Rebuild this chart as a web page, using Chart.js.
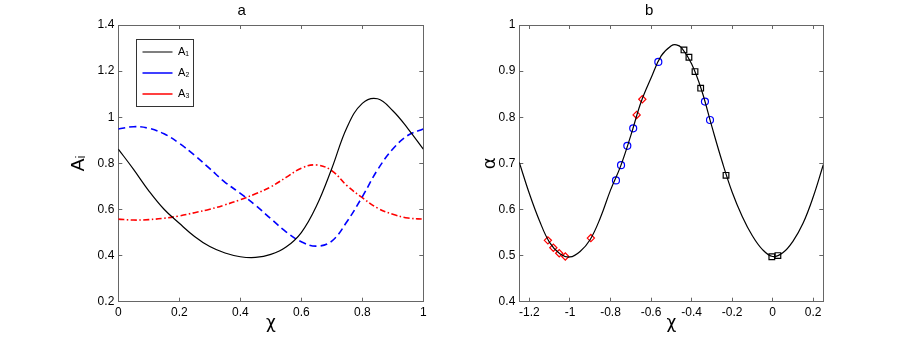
<!DOCTYPE html>
<html>
<head>
<meta charset="utf-8">
<script src="https://cdn.jsdelivr.net/npm/chart.js@4.4.1/dist/chart.umd.min.js"></script>
<style>
  html, body { margin: 0; padding: 0; background: #fff; }
  #wrap { position: relative; width: 910px; height: 340px; }
  canvas { position: absolute; top: 0; }
</style>
</head>
<body>
<div id="wrap">
  <canvas id="chartA" width="455" height="340" style="left:0"></canvas>
  <canvas id="chartB" width="455" height="340" style="left:455px"></canvas>
</div>
<script>
// Painel a
const chiA = [0, 0.05, 0.1, 0.15, 0.2, 0.25, 0.3, 0.35, 0.4, 0.45, 0.5, 0.55, 0.6, 0.65, 0.7, 0.75, 0.8, 0.85, 0.9, 0.95, 1];
const a1 = [0.862, 0.774, 0.681, 0.601, 0.540, 0.483, 0.439, 0.411, 0.395, 0.392, 0.405, 0.437, 0.500, 0.616, 0.778, 0.957, 1.060, 1.080, 1.028, 0.950, 0.862];
const a2 = [0.949, 0.959, 0.952, 0.928, 0.887, 0.835, 0.777, 0.718, 0.670, 0.618, 0.560, 0.503, 0.460, 0.441, 0.463, 0.548, 0.655, 0.772, 0.862, 0.922, 0.949];
const a3 = [0.558, 0.554, 0.556, 0.562, 0.572, 0.586, 0.601, 0.620, 0.642, 0.668, 0.698, 0.739, 0.779, 0.793, 0.768, 0.703, 0.651, 0.606, 0.579, 0.563, 0.558];
const ticksAx = [0, 0.2, 0.4, 0.6, 0.8, 1];
const ticksAy = [0.2, 0.4, 0.6, 0.8, 1, 1.2, 1.4];

// Painel b
const chiB = [-1.25, -1.2, -1.15, -1.1, -1.05, -1, -0.95, -0.9, -0.85, -0.8, -0.75, -0.7, -0.65, -0.6, -0.55, -0.5, -0.475, -0.45, -0.4, -0.35, -0.3, -0.25, -0.2, -0.15, -0.1, -0.05, 0, 0.05, 0.1, 0.15, 0.2, 0.25];
const alphaB = [0.702, 0.634, 0.575, 0.528, 0.504, 0.497, 0.509, 0.535, 0.582, 0.642, 0.694, 0.760, 0.832, 0.885, 0.933, 0.955, 0.957, 0.951, 0.916, 0.858, 0.780, 0.705, 0.638, 0.585, 0.543, 0.513, 0.498, 0.506, 0.531, 0.570, 0.627, 0.697];
const diamondX = [-1.109, -1.082, -1.053, -1.023, -0.897, -0.671, -0.643];
const diamondY = [0.533, 0.517, 0.505, 0.498, 0.538, 0.805, 0.839];
const circleX = [-0.773, -0.748, -0.717, -0.688, -0.564, -0.334, -0.309];
const circleY = [0.663, 0.696, 0.738, 0.776, 0.920, 0.834, 0.794];
const squareX = [-0.4375, -0.413, -0.383, -0.355, -0.230, -0.004, 0.026];
const squareY = [0.946, 0.930, 0.899, 0.863, 0.674, 0.4975, 0.500];
const ticksBx = [-1.2, -1, -0.8, -0.6, -0.4, -0.2, 0, 0.2];
const ticksBy = [0.4, 0.5, 0.6, 0.7, 0.8, 0.9, 1];

Chart.defaults.font.family = "'Liberation Sans', Arial, sans-serif";
Chart.defaults.color = '#000';

const frameColor = '#666';
const greekFont = "'DejaVu Sans', sans-serif";
const pts = (xs, ys) => xs.map((x, i) => ({ x: x, y: ys[i] }));
const fmt = v => String(Math.round(v * 100) / 100);
const setTicks = list => s => { s.ticks = list.map(v => ({ value: v })); };

function grid() {
    return { drawOnChartArea: false, color: frameColor, tickLength: -4, lineWidth: 1 };
}

function makeScales(xr, yr, xt, yt, yTitle, yFont, yPad, yWidth) {
    return {
        x: {
            type: 'linear', position: 'bottom', min: xr[0], max: xr[1],
            afterBuildTicks: setTicks(xt),
            afterFit: s => { s.height = 38.3; },
            grid: grid(), border: { color: frameColor, width: 1 },
            ticks: { padding: 7.5, font: { size: 12 }, autoSkip: false, maxRotation: 0, callback: fmt },
            title: { display: true, text: 'χ', font: { size: 17, family: greekFont }, padding: { top: 0, bottom: 6 } }
        },
        y: {
            type: 'linear', position: 'left', min: yr[0], max: yr[1],
            afterBuildTicks: setTicks(yt),
            afterFit: s => { s.width = yWidth; },
            grid: grid(), border: { color: frameColor, width: 1 },
            ticks: { padding: 8, font: { size: 12 }, autoSkip: false, callback: fmt },
            title: { display: true, text: yTitle, font: yFont, padding: { top: yPad, bottom: 0 } }
        },
        x2: {
            type: 'linear', axis: 'x', position: 'top', min: xr[0], max: xr[1],
            afterBuildTicks: setTicks(xt),
            afterFit: s => { s.height = 0; },
            grid: grid(), border: { color: frameColor, width: 1 },
            ticks: { display: false }
        },
        y2: {
            type: 'linear', axis: 'y', position: 'right', min: yr[0], max: yr[1],
            afterBuildTicks: setTicks(yt),
            afterFit: s => { s.width = 0; },
            grid: grid(), border: { color: frameColor, width: 1 },
            ticks: { display: false }
        }
    };
}

// moldura da legenda
const legendFrame = {
    id: 'legendFrame',
    beforeDraw(chart) {
        const lg = chart.legend;
        lg.left = chart.chartArea.left + 14.2;
        lg.top = chart.chartArea.top + 11.5;
    },
    afterDraw(chart) {
        const lg = chart.legend;
        const ctx = chart.ctx;
        ctx.save();
        ctx.strokeStyle = '#333';
        ctx.lineWidth = 1;
        ctx.strokeRect(Math.round(lg.left + 3.5) + 0.5, Math.round(lg.top + 2.5) + 0.5, 57, 67);
        ctx.restore();
    }
};

const lineBase = { pointRadius: 0, fill: false, tension: 0.4, xAxisID: 'x', yAxisID: 'y' };

new Chart(document.getElementById('chartA'), {
    type: 'line',
    data: {
        datasets: [
            { ...lineBase, label: 'A₁', data: pts(chiA, a1), borderColor: '#000', borderWidth: 1.2 },
            { ...lineBase, label: 'A₂', data: pts(chiA, a2), borderColor: '#0000ff', borderWidth: 1.6, borderDash: [7, 4] },
            { ...lineBase, label: 'A₃', data: pts(chiA, a3), borderColor: '#ff0000', borderWidth: 1.6, borderDash: [6, 2.5, 1.5, 2.5] }
        ]
    },
    options: {
        responsive: false, animation: false, devicePixelRatio: 1, events: [],
        layout: { padding: { left: 60, right: 31.7, top: 0, bottom: 0 }, autoPadding: false },
        scales: makeScales([0, 1], [0.2, 1.4], ticksAx, ticksAy, 'Aᵢ', { size: 19 }, 7.2, 58.3),
        plugins: {
            title: { display: true, text: 'a', font: { size: 15, weight: 'normal' }, padding: { top: 2, bottom: 5 } },
            legend: {
                position: 'chartArea', align: 'start',
                labels: { usePointStyle: true, pointStyle: 'line', pointStyleWidth: 30, padding: 10, font: { size: 11 } }
            },
            tooltip: { enabled: false }
        }
    },
    plugins: [legendFrame]
});

const markBase = { showLine: false, pointBackgroundColor: 'rgba(0,0,0,0)', pointBorderWidth: 1.2, xAxisID: 'x', yAxisID: 'y' };

new Chart(document.getElementById('chartB'), {
    type: 'line',
    data: {
        datasets: [
            { ...lineBase, label: 'α', data: pts(chiB, alphaB), borderColor: '#000', borderWidth: 1.2 },
            { ...markBase, label: 'losangos', data: pts(diamondX, diamondY), pointStyle: 'rectRot', pointRadius: 3.6, pointBorderColor: '#ff0000', borderColor: '#ff0000' },
            { ...markBase, label: 'círculos', data: pts(circleX, circleY), pointStyle: 'circle', pointRadius: 3.5, pointBorderColor: '#0000ff', borderColor: '#0000ff' },
            { ...markBase, label: 'quadrados', data: pts(squareX, squareY), pointStyle: 'rect', pointRadius: 4, pointBorderColor: '#000', borderColor: '#000' }
        ]
    },
    options: {
        responsive: false, animation: false, devicePixelRatio: 1, events: [],
        layout: { padding: { left: 20, right: 86.7, top: 0, bottom: 0 }, autoPadding: false },
        scales: makeScales([-1.25, 0.25], [0.4, 1], ticksBx, ticksBy, 'α', { size: 18, family: greekFont }, 4.2, 44.3),
        plugins: {
            title: { display: true, text: 'b', font: { size: 15, weight: 'normal' }, padding: { top: 2, bottom: 5 } },
            legend: { display: false },
            tooltip: { enabled: false }
        }
    }
});
</script>
</body>
</html>
